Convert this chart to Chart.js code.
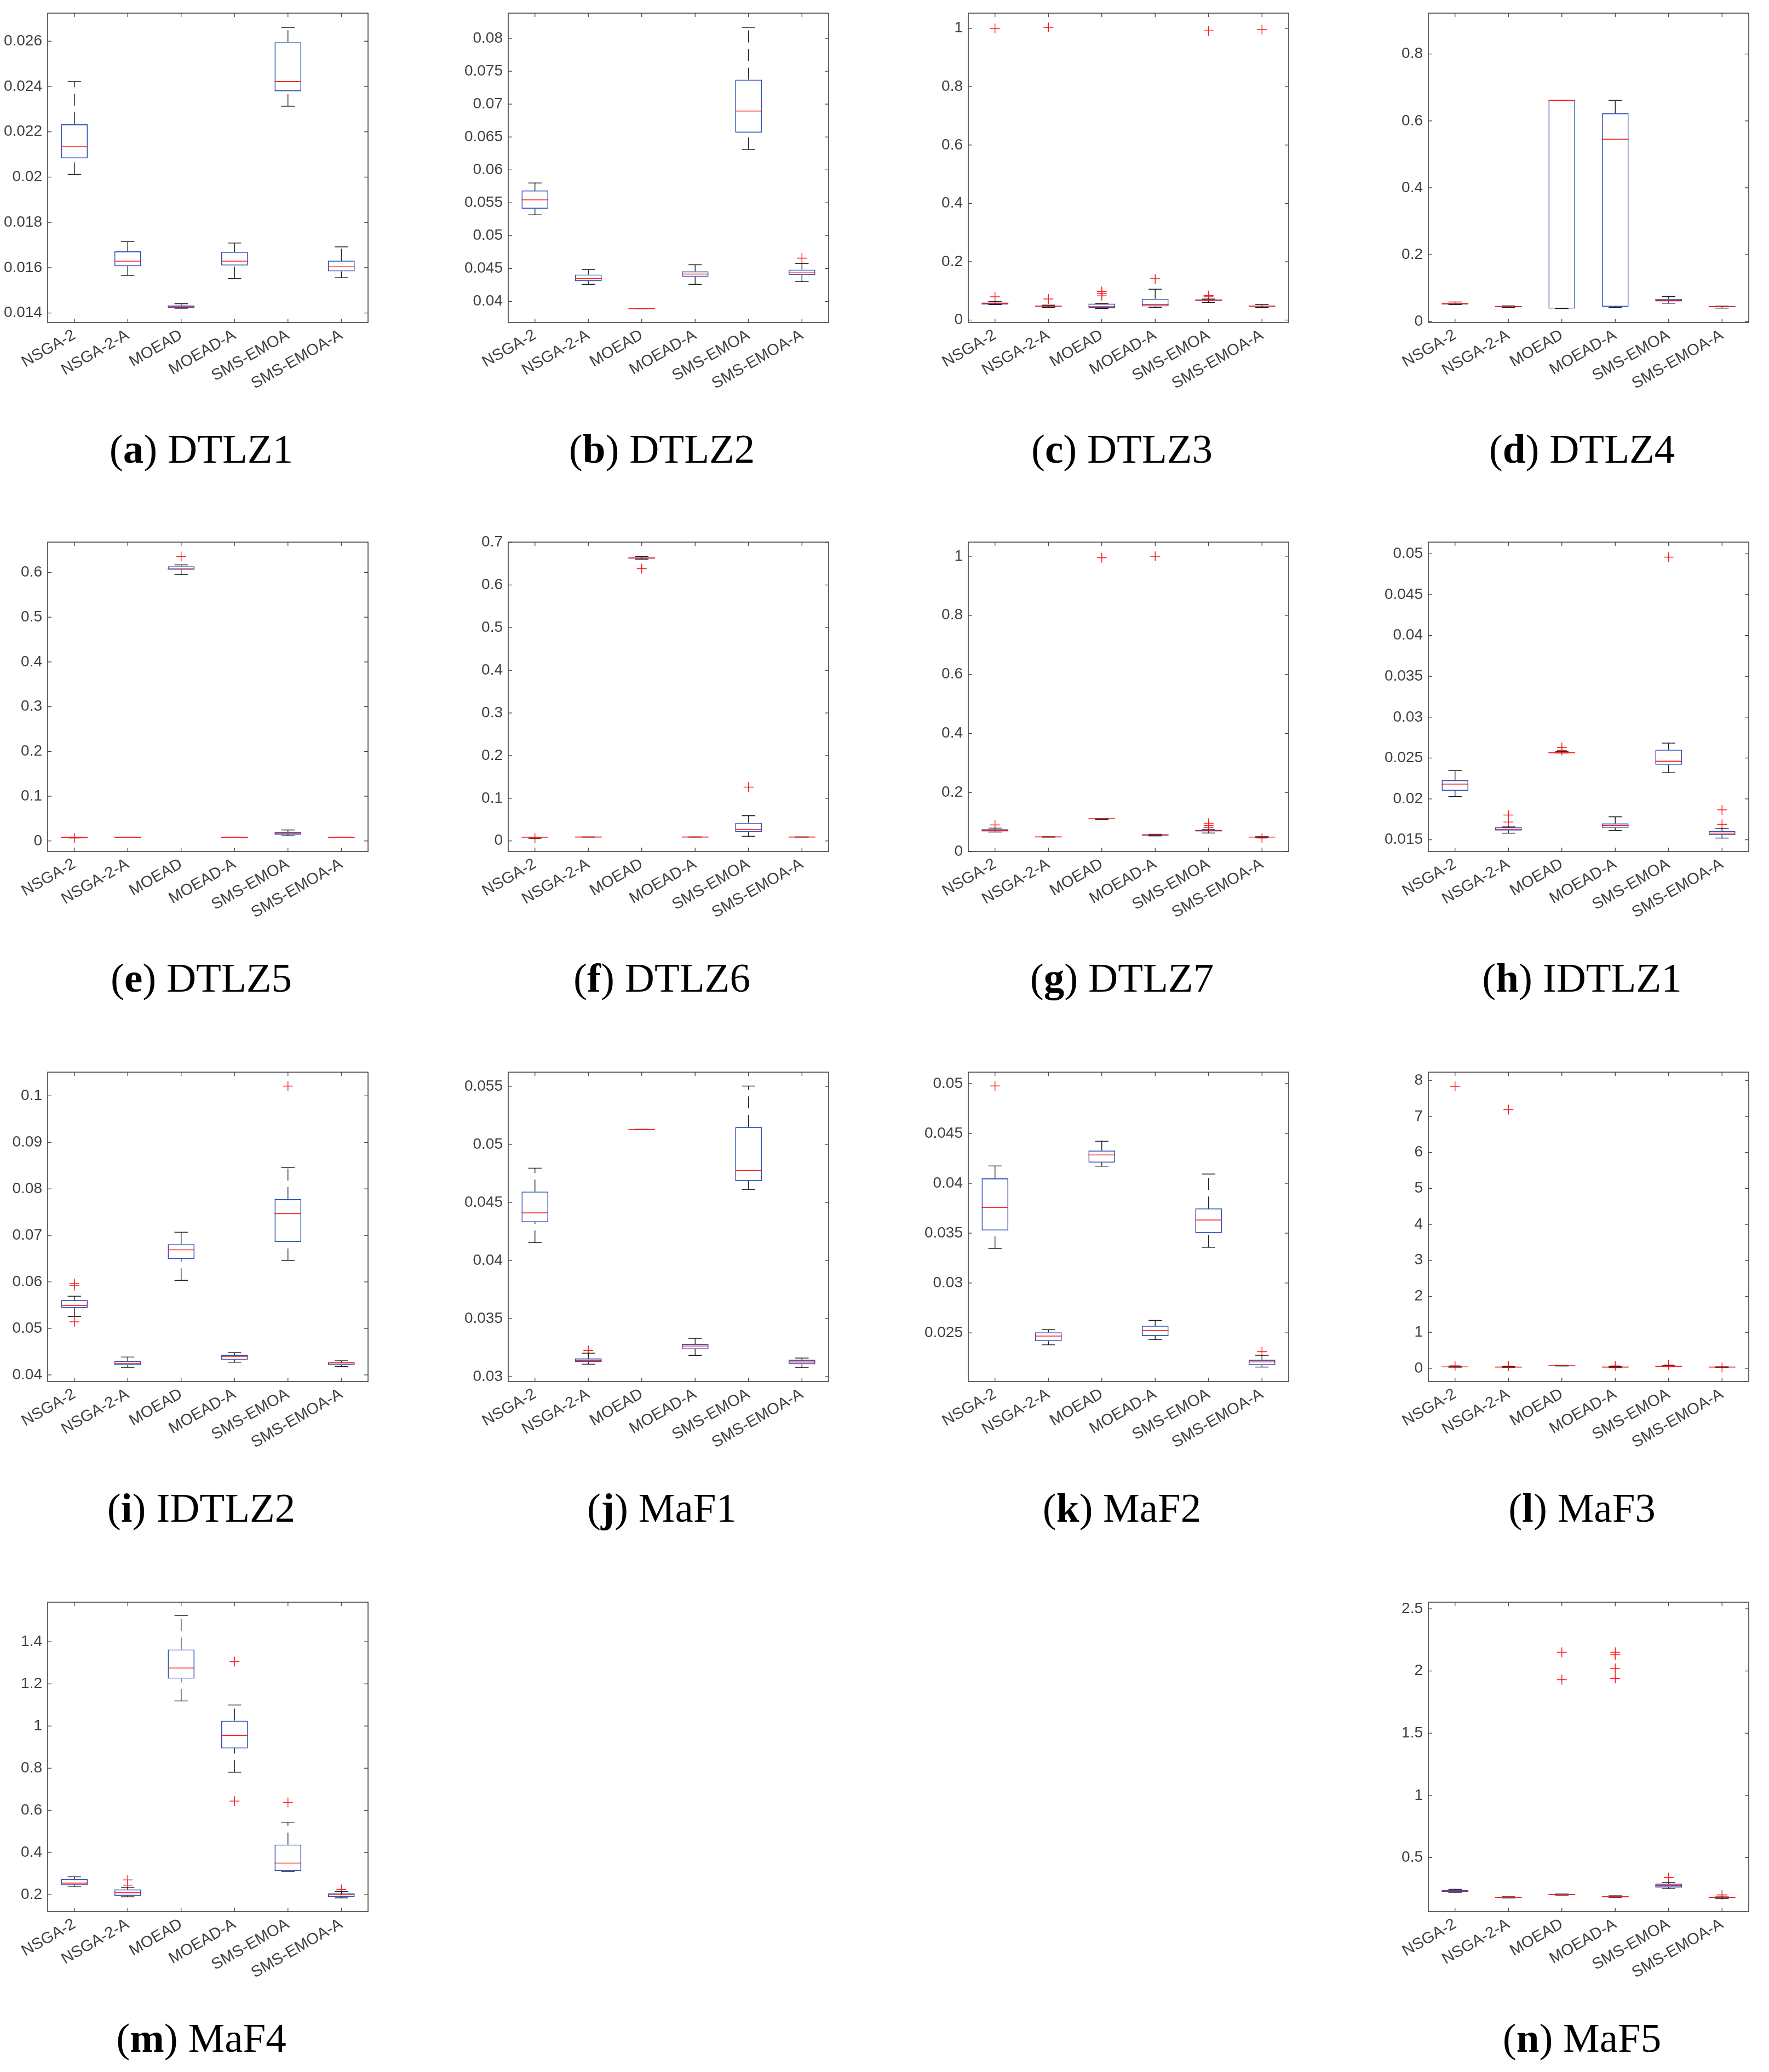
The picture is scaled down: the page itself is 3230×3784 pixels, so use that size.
<!DOCTYPE html>
<html>
<head>
<meta charset="utf-8">
<script src="https://cdn.jsdelivr.net/npm/chart.js@4.4.1/dist/chart.umd.min.js"></script>
<style>
    body { margin: 0; background: #fff; width: 3230px; height: 3784px; position: relative; overflow: hidden; }
    .panel { position: absolute; }
    .cap { position: absolute; font-family: "Liberation Serif", serif; font-size: 75px; color: #000; white-space: nowrap; transform: translateX(-50%); }
</style>
</head>
<body>
<script>
// algorithms on the x axis of every panel
const ALGOS = ["NSGA-2", "NSGA-2-A", "MOEAD", "MOEAD-A", "SMS-EMOA", "SMS-EMOA-A"];

// box stats per algorithm: [lower whisker, q1, median, q3, upper whisker]
const DTLZ1 = [
    [0.02012, 0.02083, 0.02134, 0.02233, 0.02422],
    [0.01566, 0.01607, 0.01629, 0.01672, 0.01715],
    [0.01421, 0.01423, 0.01428, 0.01433, 0.01441],
    [0.01552, 0.01610, 0.01629, 0.01670, 0.01709],
    [0.02313, 0.02379, 0.02422, 0.02595, 0.02661],
    [0.01556, 0.01584, 0.01604, 0.01631, 0.01692]
];
const DTLZ1_OUT = [[], [], [], [], [], []];

const DTLZ2 = [
    [0.05317, 0.05410, 0.05544, 0.05686, 0.05801],
    [0.04260, 0.04309, 0.04350, 0.04409, 0.04484],
    [0.03892, 0.03892, 0.03892, 0.03892, 0.03892],
    [0.04260, 0.04376, 0.04417, 0.04458, 0.04558],
    [0.06311, 0.06567, 0.06895, 0.07371, 0.08167],
    [0.04301, 0.04402, 0.04435, 0.04484, 0.04577]
];
const DTLZ2_OUT = [[], [], [], [], [], [0.04659]];

const DTLZ3 = [
    [0.0530, 0.0537, 0.0579, 0.0587, 0.0638],
    [0.0436, 0.0461, 0.0478, 0.0495, 0.0512],
    [0.0394, 0.0411, 0.0461, 0.0562, 0.0565],
    [0.0436, 0.0470, 0.0529, 0.0730, 0.1057],
    [0.0604, 0.0654, 0.0680, 0.0705, 0.0721],
    [0.0428, 0.0461, 0.0478, 0.0495, 0.0529]
];
const DTLZ3_OUT = [[0.9995, 0.0797], [1.0033, 0.0721], [0.0982, 0.0915, 0.0830], [0.1418], [0.9916, 0.0839, 0.0797], [0.9958]];

const DTLZ4 = [
    [0.0505, 0.0512, 0.0534, 0.0556, 0.0585],
    [0.0424, 0.0432, 0.0446, 0.0461, 0.0468],
    [0.0388, 0.0388, 0.6615, 0.6615, 0.6615],
    [0.0424, 0.0446, 0.5452, 0.6228, 0.6615],
    [0.0549, 0.0600, 0.0637, 0.0680, 0.0746],
    [0.0402, 0.0446, 0.0446, 0.0461, 0.0461]
];
const DTLZ4_OUT = [[], [], [], [], [], []];

const DTLZ5 = [
    [0.0072, 0.0078, 0.0082, 0.0084, 0.0086],
    [0.0081, 0.0082, 0.0082, 0.0082, 0.0083],
    [0.5951, 0.6060, 0.6093, 0.6137, 0.6169],
    [0.0081, 0.0082, 0.0082, 0.0082, 0.0083],
    [0.0115, 0.0137, 0.0169, 0.0197, 0.0246],
    [0.0081, 0.0082, 0.0082, 0.0082, 0.0083]
];
const DTLZ5_OUT = [[0.0066], [], [0.6355], [], [], []];

const DTLZ6 = [
    [0.0063, 0.0084, 0.0086, 0.0088, 0.0090],
    [0.0090, 0.0091, 0.0092, 0.0093, 0.0094],
    [0.6606, 0.6617, 0.6634, 0.6646, 0.6668],
    [0.0090, 0.0091, 0.0092, 0.0093, 0.0094],
    [0.0109, 0.0212, 0.0270, 0.0424, 0.0591],
    [0.0090, 0.0091, 0.0092, 0.0093, 0.0094]
];
const DTLZ6_OUT = [[0.0060], [], [0.6382], [], [0.1261], []];

const DTLZ7 = [
    [0.0658, 0.0675, 0.0716, 0.0758, 0.0791],
    [0.0485, 0.0488, 0.0493, 0.0497, 0.0500],
    [0.1089, 0.1113, 0.1113, 0.1113, 0.1113],
    [0.0526, 0.0534, 0.0567, 0.0575, 0.0584],
    [0.0625, 0.0675, 0.0700, 0.0733, 0.0741],
    [0.0475, 0.0484, 0.0486, 0.0500, 0.0502]
];
const DTLZ7_OUT = [[0.0899], [], [0.995], [1.0], [0.0957, 0.0882, 0.0816], [0.0455]];

const IDTLZ1 = [
    [0.02029, 0.02100, 0.02181, 0.02229, 0.02348],
    [0.01581, 0.01614, 0.01625, 0.01652, 0.01658],
    [0.02562, 0.02564, 0.02566, 0.02572, 0.02578],
    [0.01614, 0.01646, 0.01673, 0.01700, 0.01781],
    [0.02321, 0.02417, 0.02462, 0.02602, 0.02683],
    [0.01521, 0.01560, 0.01581, 0.01608, 0.01640]
];
const IDTLZ1_OUT = [[], [0.01802, 0.01718], [0.02629, 0.02592], [], [0.04959], [0.01867, 0.01688]];

const IDTLZ2 = [
    [0.05256, 0.05440, 0.05492, 0.05608, 0.05692],
    [0.04163, 0.04210, 0.04247, 0.04294, 0.04384],
    [0.06033, 0.06490, 0.06690, 0.06811, 0.07068],
    [0.04273, 0.04326, 0.04399, 0.04431, 0.04478],
    [0.06459, 0.06858, 0.07468, 0.07778, 0.08461],
    [0.04179, 0.04210, 0.04257, 0.04273, 0.04305]
];
const IDTLZ2_OUT = [[0.05965, 0.05918, 0.05140], [], [], [], [0.1021], []];

const MAF1 = [
    [0.04155, 0.04330, 0.04410, 0.04593, 0.04795],
    [0.03107, 0.03126, 0.03141, 0.03156, 0.03202],
    [0.05127, 0.05128, 0.05128, 0.05129, 0.05130],
    [0.03183, 0.03236, 0.03263, 0.03282, 0.03330],
    [0.04612, 0.04684, 0.04776, 0.05149, 0.05502],
    [0.03080, 0.03107, 0.03126, 0.03145, 0.03160]
];
const MAF1_OUT = [[], [0.03225], [], [], [], []];

const MAF2 = [
    [0.03346, 0.03527, 0.03757, 0.04049, 0.04174],
    [0.02380, 0.02417, 0.02468, 0.02505, 0.02532],
    [0.04172, 0.04208, 0.04284, 0.04328, 0.04422],
    [0.02434, 0.02468, 0.02522, 0.02571, 0.02625],
    [0.03358, 0.03502, 0.03632, 0.03748, 0.04093],
    [0.02157, 0.02176, 0.02208, 0.02230, 0.02275]
];
const MAF2_OUT = [[0.04976], [], [], [], [], [0.02311]];

const MAF3 = [
    [0.030, 0.035, 0.040, 0.045, 0.055],
    [0.025, 0.030, 0.034, 0.040, 0.050],
    [0.065, 0.068, 0.073, 0.076, 0.080],
    [0.020, 0.025, 0.034, 0.048, 0.050],
    [0.045, 0.048, 0.054, 0.060, 0.075],
    [0.025, 0.028, 0.034, 0.038, 0.042]
];
const MAF3_OUT = [[7.837, 0.07], [7.19, 0.06], [], [0.065], [0.09], [0.02]];

const MAF4 = [
    [0.240, 0.245, 0.255, 0.275, 0.285],
    [0.190, 0.195, 0.210, 0.225, 0.235],
    [1.119, 1.225, 1.275, 1.363, 1.525],
    [0.781, 0.894, 0.956, 1.025, 1.100],
    [0.310, 0.3125, 0.350, 0.4375, 0.544],
    [0.185, 0.190, 0.200, 0.206, 0.215]
];
const MAF4_OUT = [[], [0.27, 0.245], [], [1.306, 0.644], [0.6375], [0.225]];

const MAF5 = [
    [0.220, 0.225, 0.232, 0.238, 0.245],
    [0.175, 0.178, 0.180, 0.182, 0.185],
    [0.198, 0.200, 0.203, 0.205, 0.207],
    [0.180, 0.183, 0.186, 0.190, 0.193],
    [0.250, 0.260, 0.275, 0.290, 0.300],
    [0.170, 0.175, 0.180, 0.185, 0.190]
];
const MAF5_OUT = [[], [], [2.15, 1.93], [2.15, 2.13, 2.02, 1.94], [0.34], [0.2]];

// panel captions and y axis limits
const LETTERS = ["a", "b", "c", "d", "e", "f", "g", "h", "i", "j", "k", "l", "m", "n"];
const TITLES = ["DTLZ1", "DTLZ2", "DTLZ3", "DTLZ4", "DTLZ5", "DTLZ6", "DTLZ7", "IDTLZ1", "IDTLZ2", "MaF1", "MaF2", "MaF3", "MaF4", "MaF5"];
const Y_MIN = [0.01358, 0.0368, -0.0084, -0.0029, -0.0235, -0.0247, 0, 0.01357, 0.03858, 0.02958, 0.02012, -0.367, 0.12, 0.066];
const Y_MAX = [0.02724, 0.08383, 1.052, 0.9222, 0.6678, 0.7006, 1.048, 0.05143, 0.1051, 0.05622, 0.05115, 8.231, 1.5875, 2.553];
const Y_STEP = [0.002, 0.005, 0.2, 0.2, 0.1, 0.1, 0.2, 0.005, 0.01, 0.005, 0.005, 1, 0.2, 0.5];

const STATS = [DTLZ1, DTLZ2, DTLZ3, DTLZ4, DTLZ5, DTLZ6, DTLZ7, IDTLZ1, IDTLZ2, MAF1, MAF2, MAF3, MAF4, MAF5];
const OUTLIERS = [DTLZ1_OUT, DTLZ2_OUT, DTLZ3_OUT, DTLZ4_OUT, DTLZ5_OUT, DTLZ6_OUT, DTLZ7_OUT,
    IDTLZ1_OUT, IDTLZ2_OUT, MAF1_OUT, MAF2_OUT, MAF3_OUT, MAF4_OUT, MAF5_OUT];

// grid slot for each panel (row, col); row 4 only has first and last column
const SLOTS = [[0,0],[0,1],[0,2],[0,3],[1,0],[1,1],[1,2],[1,3],[2,0],[2,1],[2,2],[2,3],[3,0],[3,3]];

const COL_LEFT = [87, 928, 1768, 2608];
const ROW_TOP = [24, 990, 1958, 2926];
const AX_W = 585, AX_H = 565;
const Y_W = 85, X_H = 170, PAD_T = 30, PAD_R = 30;

const BLUE = "#2f4fb8";
const RED = "#ff1a1a";
const AXIS = "#404040";

Chart.defaults.font.family = "'Liberation Sans', Arial, sans-serif";
Chart.defaults.color = AXIS;

function seg(ctx, x1, y1, x2, y2) {
    ctx.beginPath();
    ctx.moveTo(x1, y1);
    ctx.lineTo(x2, y2);
    ctx.stroke();
}

function makePanel(idx) {
    const [row, col] = SLOTS[idx];
    const axL = COL_LEFT[col], axT = ROW_TOP[row];
    const stats = STATS[idx];

    const wrap = document.createElement("div");
    wrap.className = "panel";
    document.body.appendChild(wrap);

    const cap = document.createElement("div");
    cap.className = "cap";
    cap.style.left = (axL + AX_W / 2 - 12) + "px";
    cap.style.top = (axT + AX_H + 188) + "px";
    cap.innerHTML = "(<b>" + LETTERS[idx] + "</b>) " + TITLES[idx];
    document.body.appendChild(cap);

    // whiskers, caps, medians and the axes box with inward ticks
    const boxPlot = {
        id: "boxPlot",
        afterDatasetsDraw(chart) {
            const { ctx, chartArea: a, scales: { x, y } } = chart;
            const step = x.getPixelForValue(1) - x.getPixelForValue(0);
            ctx.save();
            stats.forEach((s, i) => {
                const cx = x.getPixelForValue(i);
                const lo = y.getPixelForValue(s[0]);
                const q1 = y.getPixelForValue(s[1]);
                const med = y.getPixelForValue(s[2]);
                const q3 = y.getPixelForValue(s[3]);
                const hi = y.getPixelForValue(s[4]);
                ctx.strokeStyle = "#1a1a1a";
                ctx.lineWidth = 1.4;
                ctx.setLineDash([22, 12]);
                if (lo - q1 > 0.5) seg(ctx, cx, lo, cx, q1);
                if (q3 - hi > 0.5) seg(ctx, cx, q3, cx, hi);
                ctx.setLineDash([]);
                seg(ctx, cx - step * 0.125, lo, cx + step * 0.125, lo);
                seg(ctx, cx - step * 0.125, hi, cx + step * 0.125, hi);
                ctx.strokeStyle = RED;
                ctx.lineWidth = 1.6;
                seg(ctx, cx - step * 0.25, med, cx + step * 0.25, med);
            });
            ctx.strokeStyle = AXIS;
            ctx.lineWidth = 1.6;
            ctx.strokeRect(a.left, a.top, a.right - a.left, a.bottom - a.top);
            ctx.lineWidth = 1.3;
            ALGOS.forEach((_, i) => {
                const cx = x.getPixelForValue(i);
                seg(ctx, cx, a.bottom, cx, a.bottom - 7);
                seg(ctx, cx, a.top, cx, a.top + 7);
            });
            y.ticks.forEach(t => {
                const py = y.getPixelForValue(t.value);
                seg(ctx, a.left, py, a.left + 7, py);
                seg(ctx, a.right, py, a.right - 7, py);
            });
            ctx.restore();
        }
    };

    const points = [];
    OUTLIERS[idx].forEach((list, i) => list.forEach(v => points.push({ x: ALGOS[i], y: v })));

    function build(w, h) {
        wrap.innerHTML = "";
        const canvas = document.createElement("canvas");
        canvas.width = w;
        canvas.height = h;
        wrap.appendChild(canvas);
        return new Chart(canvas.getContext("2d"), {
            type: "bar",
            data: {
                labels: ALGOS,
                datasets: [
                    {
                        type: "bar",
                        data: stats.map(s => [s[1], s[3]]),
                        backgroundColor: "rgba(0,0,0,0)",
                        borderColor: BLUE,
                        borderWidth: 1.6,
                        borderSkipped: false,
                        barPercentage: 0.5,
                        categoryPercentage: 1,
                        order: 2
                    },
                    {
                        type: "line",
                        data: points,
                        showLine: false,
                        pointStyle: "cross",
                        pointRadius: 9,
                        pointBorderWidth: 1.5,
                        pointBorderColor: RED,
                        pointBackgroundColor: RED,
                        order: 1
                    }
                ]
            },
            options: {
                responsive: false,
                maintainAspectRatio: false,
                animation: false,
                events: [],
                layout: { padding: { top: PAD_T, right: PAD_R, left: 0, bottom: 0 } },
                plugins: { legend: { display: false }, tooltip: { enabled: false } },
                scales: {
                    x: {
                        grid: { display: false, drawTicks: false },
                        border: { display: false },
                        ticks: { autoSkip: false, minRotation: 30, maxRotation: 30, padding: 6, font: { size: 29 } },
                        afterFit: s => { s.height = X_H; }
                    },
                    y: {
                        min: Y_MIN[idx],
                        max: Y_MAX[idx],
                        grid: { display: false, drawTicks: false },
                        border: { display: false },
                        ticks: {
                            stepSize: Y_STEP[idx],
                            includeBounds: false,
                            padding: 10,
                            font: { size: 28 },
                            callback: v => String(+(+v).toFixed(6))
                        },
                        afterFit: s => { s.width = Y_W; }
                    }
                }
            },
            plugins: [boxPlot]
        });
    }

    // build once, correct the canvas size so the plot box is exactly AX_W x AX_H, then place it
    let w = Y_W + AX_W + PAD_R, h = PAD_T + AX_H + X_H;
    let chart = build(w, h);
    let a = chart.chartArea;
    const dw = Math.round(AX_W - (a.right - a.left));
    const dh = Math.round(AX_H - (a.bottom - a.top));
    if (dw !== 0 || dh !== 0) {
        chart.destroy();
        chart = build(w + dw, h + dh);
        a = chart.chartArea;
    }
    wrap.style.left = Math.round(axL - a.left) + "px";
    wrap.style.top = Math.round(axT - a.top) + "px";
}

STATS.forEach((_, i) => makePanel(i));
</script>
</body>
</html>
